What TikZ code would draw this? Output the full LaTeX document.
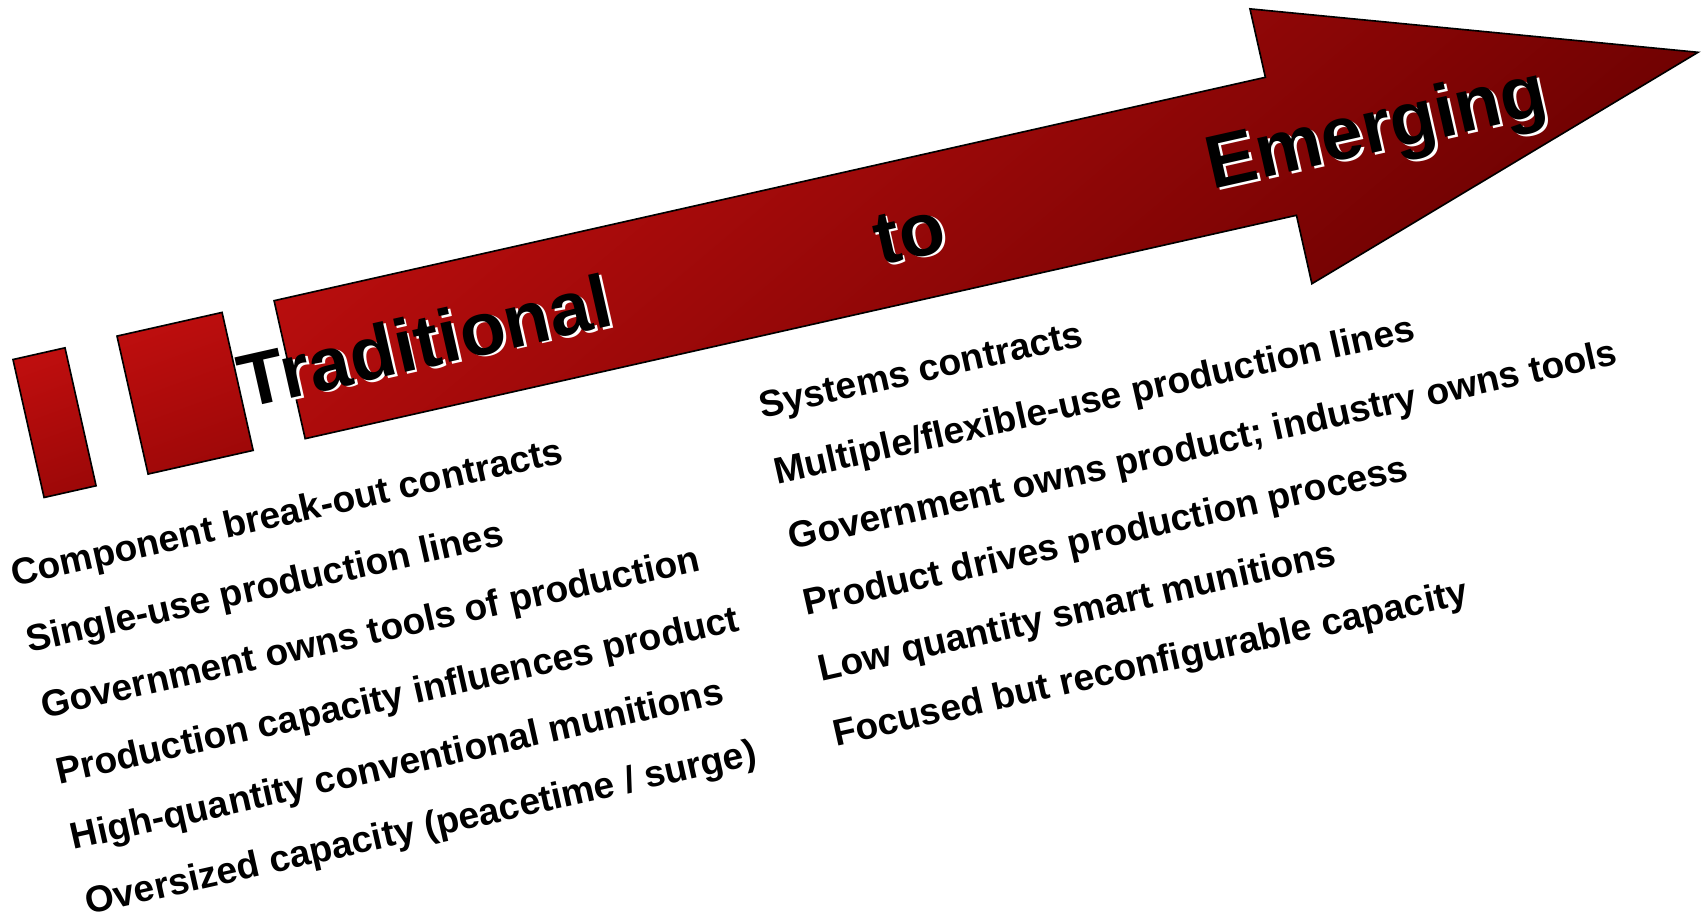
\documentclass[tikz,border=0pt]{standalone}
\usepackage{fontspec}
\setmainfont{Liberation Sans}
\definecolor{redlight}{RGB}{188,14,14}
\definecolor{reddark}{RGB}{102,0,0}
\definecolor{barlight}{RGB}{190,14,14}
\definecolor{bardark}{RGB}{158,8,8}
\tikzset{
  barbox/.style={draw=black, line width=1.5pt, line join=miter,
    top color=barlight, bottom color=bardark, shading angle=20},
  arrowbody/.style={draw=black, line width=1.5pt, line join=miter,
    top color=redlight, bottom color=reddark, shading angle=40},
  bigword/.style={font=\fontsize{69}{69}\selectfont\bfseries,
    anchor=base west, inner sep=0pt, outer sep=0pt},
  wordshadow/.style={bigword, text=white},
  listitem/.style={font=\fontsize{34.2}{35}\selectfont\bfseries,
    anchor=base west, inner sep=0pt, outer sep=0pt},
}
\begin{document}
\begin{tikzpicture}[x=1pt, y=1pt]
\useasboundingbox (0,0) rectangle (1568,-845);
\begin{scope}[rotate=12.7, transform shape]
  % two lead-in bars
  \path[barbox] (-61,-455) rectangle (-12,-325);
  \path[barbox] (37,-455) rectangle (136,-325);
  % the arrow
  \path[arrowbody] (185,-455) -- (1119,-455) -- (1119,-519.5) -- (1512,-390)
    -- (1119,-260.5) -- (1119,-325) -- (185,-325) -- cycle;
  % headline words with a white drop shadow
  \node[wordshadow] (tradS) at (139.7,-418.2) {Traditional};
  \node[bigword]    (trad)  at (137.5,-416) {Traditional};
  \node[wordshadow] (toS)   at (737.7,-418.2) {to};
  \node[bigword]    (to)    at (735.5,-416) {to};
  \node[wordshadow] (emS)   at (1051.2,-417.2) {Emerging};
  \node[bigword]    (em)    at (1049,-415) {Emerging};
  % traditional features
  \node[listitem] (l1) at (-105.5,-529) {Component break-out contracts};
  \node[listitem] (l2) at (-105.5,-591) {Single-use production lines};
  \node[listitem] (l3) at (-105.5,-653) {Government owns tools of production};
  \node[listitem] (l4) at (-105.5,-715) {Production capacity influences product};
  \node[listitem] (l5) at (-105.5,-777) {High-quantity conventional munitions};
  \node[listitem] (l6) at (-105.5,-838) {Oversized capacity (peacetime / surge)};
  % emerging features
  \node[listitem] (r1) at (599,-529) {Systems contracts};
  \node[listitem] (r2) at (599,-591) {Multiple/flexible-use production lines};
  \node[listitem] (r3) at (599,-653) {Government owns product; industry owns tools};
  \node[listitem] (r4) at (599,-715) {Product drives production process};
  \node[listitem] (r5) at (599,-777) {Low quantity smart munitions};
  \node[listitem] (r6) at (599,-838) {Focused but reconfigurable capacity};
\end{scope}
\end{tikzpicture}
\end{document}
